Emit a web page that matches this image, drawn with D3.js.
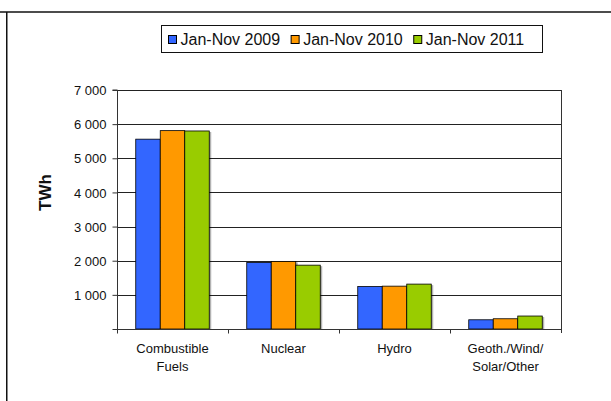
<!DOCTYPE html>
<html><head><meta charset="utf-8">
<script src="https://cdn.jsdelivr.net/npm/d3@7"></script>
<style>body{margin:0;background:#fff}svg{display:block;font-family:"Liberation Sans",Arial,sans-serif}</style>
</head><body>
<svg id="c" width="611" height="401"></svg>
<script>
const categories = [["Combustible","Fuels"],["Nuclear"],["Hydro"],["Geoth./Wind/","Solar/Other"]];
const seriesNames = ["Jan-Nov 2009","Jan-Nov 2010","Jan-Nov 2011"];
const values2009 = [5560, 1950, 1245, 270];
const values2010 = [5810, 1980, 1255, 300];
const values2011 = [5800, 1870, 1315, 380];
const yTicks = [0,1000,2000,3000,4000,5000,6000,7000];
const colors = ["#3366FF","#FF9900","#99CC00"];

const series = [values2009, values2010, values2011];
const svg = d3.select("#c");
const L=117, R=561, T=90, B=329;
const catKeys = categories.map(c=>c.join(" "));
const x = d3.scaleBand().domain(catKeys).range([L,R]).padding(0);
const xi = d3.scaleBand().domain(seriesNames).range([0,x.bandwidth()]).paddingInner(0).paddingOuter(0.765);
const y = d3.scaleLinear().domain([0,7000]).range([B,T]);
const loc = d3.formatLocale({decimal:".",thousands:" ",grouping:[3],currency:["",""]});
const fmt = loc.format(",d");

// frame
svg.append("line").attr("x1",0).attr("x2",611).attr("y1",12).attr("y2",12).attr("stroke","#111").attr("stroke-width",1.5);
svg.append("line").attr("x1",6.75).attr("x2",6.75).attr("y1",12).attr("y2",401).attr("stroke","#111").attr("stroke-width",1.5);

// gridlines
svg.append("g").selectAll("line").data(yTicks.filter(d=>d>0)).join("line")
  .attr("x1",L).attr("x2",R).attr("y1",d=>Math.round(y(d))+0.5).attr("y2",d=>Math.round(y(d))+0.5)
  .attr("stroke","#222").attr("stroke-width",1);

// bars
const groups = svg.append("g").selectAll("g").data(catKeys).join("g")
  .attr("transform",d=>`translate(${x(d)},0)`);
series.forEach((vals,si)=>{
  groups.append("rect")
    .attr("x",(d,i)=>xi(seriesNames[si])+2).attr("y",(d,i)=>y(vals[i])+1)
    .attr("width",xi.bandwidth()).attr("height",(d,i)=>Math.max(0,B-y(vals[i])-1))
    .attr("fill","#000").attr("opacity",0.3);
});
series.forEach((vals,si)=>{
  groups.append("rect")
    .attr("x",(d,i)=>xi(seriesNames[si])).attr("y",(d,i)=>y(vals[i]))
    .attr("width",xi.bandwidth()).attr("height",(d,i)=>B-y(vals[i]))
    .attr("fill",colors[si]).attr("stroke","#000").attr("stroke-width",0.8);
});

// right border
svg.append("line").attr("x1",R+0.5).attr("x2",R+0.5).attr("y1",T).attr("y2",B+4).attr("stroke","#333");

// y axis
const ya = svg.append("g").attr("transform",`translate(${L+0.5},0.5)`)
  .call(d3.axisLeft(y).tickValues(yTicks).tickSize(5).tickPadding(6).tickFormat(d=>d===0?"":fmt(d)));
ya.select(".domain").attr("stroke","#333").attr("d",`M-5,${T-0.5}H0V${B+4}`);
ya.selectAll(".tick line").attr("stroke","#333").attr("transform","translate(0,-0.5)");
ya.selectAll("text").attr("font-size",13).attr("font-family","Liberation Sans, Arial, sans-serif").attr("fill","#111");

// x axis
const xa = svg.append("g").attr("transform",`translate(0,${B+0.5})`);
xa.append("line").attr("x1",L).attr("x2",R).attr("stroke","#333");
xa.selectAll("line.t").data(catKeys.slice(1)).join("line").attr("class","t")
  .attr("x1",d=>x(d)+0.5).attr("x2",d=>x(d)+0.5).attr("y1",0).attr("y2",4).attr("stroke","#333");
svg.append("g").selectAll("text").data(categories).join("text")
  .attr("x",(d,i)=>x(catKeys[i])+x.bandwidth()/2).attr("y",353)
  .attr("text-anchor","middle").attr("font-size",13).attr("fill","#111")
  .selectAll("tspan").data(d=>d).join("tspan")
  .attr("x",function(){return this.parentNode.getAttribute("x");})
  .attr("dy",(d,i)=>i===0?0:17.7).text(d=>d);

// y title
svg.append("text").attr("transform","translate(45,192.5) rotate(-90)")
  .attr("text-anchor","middle").attr("dominant-baseline","central")
  .attr("font-weight","bold").attr("font-size",17).attr("fill","#111").text("TWh");

// legend
const lg = svg.append("g");
lg.append("rect").attr("x",161.5).attr("y",25.5).attr("width",381).attr("height",27)
  .attr("fill","#fff").attr("stroke","#111").attr("stroke-width",1);
let lx = 168;
seriesNames.forEach((n,i)=>{
  lg.append("rect").attr("x",lx+0.5).attr("y",35.5).attr("width",8).attr("height",8)
    .attr("fill",colors[i]).attr("stroke","#000").attr("stroke-width",1);
  const t = lg.append("text").attr("x",lx+12.5).attr("y",45).attr("font-size",16).attr("fill","#111").text(n);
  lx += 12.5 + t.node().getComputedTextLength() + 10.5;
});
</script>
</body></html>
